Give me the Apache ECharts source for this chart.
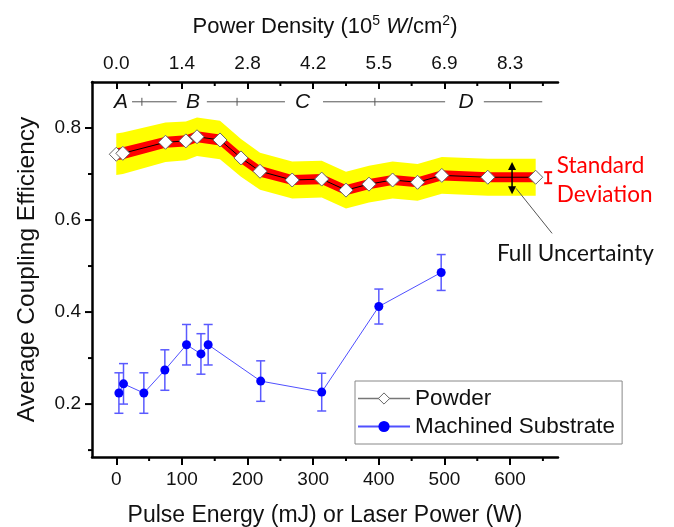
<!DOCTYPE html>
<html><head><meta charset="utf-8">
<script src="https://cdn.jsdelivr.net/npm/echarts@6/dist/echarts.min.js"></script>
<style>html,body{margin:0;padding:0;background:#fff}#c{width:674px;height:527px}</style>
</head><body><div id="c"></div>
<script>
// ---- data ----
const powderX  = [0, 10, 75, 106, 123, 158, 190, 219, 268, 313, 350, 385, 421, 459, 496, 566, 639];
const powderY  = [0.743, 0.745, 0.769, 0.772, 0.781, 0.774, 0.735, 0.706, 0.687, 0.689, 0.665, 0.678, 0.687, 0.682, 0.697, 0.693, 0.693];
const powderSD = [0.013, 0.013, 0.012, 0.012, 0.012, 0.012, 0.012, 0.012, 0.011, 0.011, 0.011, 0.011, 0.011, 0.011, 0.011, 0.011, 0.011];
const powderFU = [0.045, 0.045, 0.043, 0.042, 0.042, 0.042, 0.041, 0.040, 0.040, 0.040, 0.040, 0.040, 0.040, 0.040, 0.040, 0.040, 0.040];
const substrateX   = [4, 11, 42, 74, 107, 129, 140, 220, 313, 400, 495];
const substrateY   = [0.224, 0.244, 0.224, 0.274, 0.329, 0.309, 0.329, 0.250, 0.226, 0.412, 0.486];
const substrateErr = [0.044, 0.044, 0.044, 0.044, 0.044, 0.044, 0.044, 0.044, 0.041, 0.038, 0.039];
const bottomTicks   = [0, 100, 200, 300, 400, 500, 600];
const topTickLabels = ['0.0', '1.4', '2.8', '4.2', '5.5', '6.9', '8.3'];
const yTicks        = [0.2, 0.4, 0.6, 0.8];
const xMinorTicks   = [50, 150, 250, 350, 450, 550, 650];
const yMinorTicks   = [0.1, 0.3, 0.5, 0.7];
const regimeLabels    = ['A', 'B', 'C', 'D'];
const regimeLabelX    = [7, 117, 284, 533];
const regimeLineFrom  = [24, 138, 315, 560];
const regimeLineTo    = [92, 257, 501, 649];
const regimeLineTick  = [39, 184, 394, null];
const regimeY = 0.857;
const X_MIN = -37, X_MAX = 673, Y_MIN = 0.085, Y_MAX = 0.9;

const FONT = '"Liberation Sans", Arial, sans-serif';

const chart = echarts.init(document.getElementById('c'), null, {renderer: 'canvas'});

function bandRender(widths, color) {
  return function (params, api) {
    if (params.dataIndex !== 0) return null;
    const pts = [];
    for (let i = 0; i < powderX.length; i++) pts.push(api.coord([powderX[i], powderY[i] + widths[i]]));
    for (let i = powderX.length - 1; i >= 0; i--) pts.push(api.coord([powderX[i], powderY[i] - widths[i]]));
    return {type: 'polygon', shape: {points: pts}, style: {fill: color}};
  };
}

const axisLineStyle = {show: true, onZero: false, lineStyle: {color: '#000', width: 2.5}};

const option = {
  animation: false,
  backgroundColor: '#fff',
  grid: {left: 92, right: 116, top: 82, bottom: 70, containLabel: false, outerBoundsMode: 'none'},
  legend: {
    orient: 'vertical', left: 355, top: 381,
    padding: [6, 7, 6, 2], itemGap: 5, itemWidth: 52, itemHeight: 14,
    borderColor: '#888', borderWidth: 1,
    textStyle: {fontFamily: FONT, fontSize: 22.5, color: '#111'},
    data: [
      {name: 'Powder', itemStyle: {color: '#fff', borderColor: '#666', borderWidth: 1}, lineStyle: {color: '#777', width: 1.5}},
      {name: 'Machined Substrate'}
    ]
  },
  xAxis: [
    {
      type: 'value', min: X_MIN, max: X_MAX, position: 'bottom',
      name: 'Pulse Energy (mJ) or Laser Power (W)', nameLocation: 'middle', nameGap: 47,
      nameTextStyle: {fontFamily: FONT, fontSize: 23, color: '#111'},
      axisLine: axisLineStyle,
      axisTick: {show: true, customValues: bottomTicks, length: 8, lineStyle: {color: '#000', width: 2}},
      axisLabel: {customValues: bottomTicks, margin: 13, fontFamily: FONT, fontSize: 19, color: '#111'},
      splitLine: {show: false}
    },
    {
      type: 'value', min: X_MIN, max: X_MAX, position: 'top',
      name: '{a|Power Density (10}{s|5}{a| }{i|W}{a|/cm}{s|2}{a|)}', nameLocation: 'middle', nameGap: 42,
      nameTextStyle: {
        rich: {
          a: {fontFamily: FONT, fontSize: 22, color: '#111'},
          i: {fontFamily: FONT, fontSize: 22, color: '#111', fontStyle: 'italic'},
          s: {fontFamily: FONT, fontSize: 14, color: '#111', padding: [0, 0, 12, 0]}
        }
      },
      axisLine: axisLineStyle,
      axisTick: {show: true, inside: true, customValues: bottomTicks, length: 7, lineStyle: {color: '#000', width: 2}},
      axisLabel: {
        customValues: bottomTicks, margin: 9, fontFamily: FONT, fontSize: 19, color: '#111',
        formatter: function (v) { return topTickLabels[bottomTicks.indexOf(Math.round(v))]; }
      },
      splitLine: {show: false}
    }
  ],
  yAxis: {
    type: 'value', min: Y_MIN, max: Y_MAX,
    name: 'Average Coupling Efficiency', nameLocation: 'middle', nameGap: 52,
    nameTextStyle: {fontFamily: FONT, fontSize: 24.5, color: '#111'},
    axisLine: axisLineStyle,
    axisTick: {show: false},
    axisLabel: {customValues: yTicks, margin: 11, fontFamily: FONT, fontSize: 19, color: '#111',
      formatter: function (v) { return v.toFixed(1); }},
    splitLine: {show: false}
  },
  series: [
    { // full uncertainty band
      type: 'custom', name: 'fu', z: 1, silent: true,
      data: powderX.map((x, i) => [x, powderY[i]]),
      renderItem: bandRender(powderFU, '#ffff00')
    },
    { // standard deviation band
      type: 'custom', name: 'sd', z: 2, silent: true,
      data: powderX.map((x, i) => [x, powderY[i]]),
      renderItem: bandRender(powderSD, '#ff0000')
    },
    {
      type: 'line', name: 'Powder', z: 5,
      data: powderX.map((x, i) => [x, powderY[i]]),
      symbol: 'diamond', symbolSize: 14, showAllSymbol: true,
      lineStyle: {color: '#000', width: 1},
      itemStyle: {color: '#fff', borderColor: '#666', borderWidth: 1}
    },
    { // substrate error bars
      type: 'custom', name: 'err', z: 3, silent: true,
      data: substrateX.map((x, i) => [x, substrateY[i] - substrateErr[i], substrateY[i] + substrateErr[i]]),
      renderItem: function (params, api) {
        const lo = api.coord([api.value(0), api.value(1)]);
        const hi = api.coord([api.value(0), api.value(2)]);
        const st = {stroke: '#5a5aff', lineWidth: 1.5};
        return {type: 'group', children: [
          {type: 'line', shape: {x1: lo[0], y1: lo[1], x2: hi[0], y2: hi[1]}, style: st},
          {type: 'line', shape: {x1: lo[0] - 4.5, y1: lo[1], x2: lo[0] + 4.5, y2: lo[1]}, style: st},
          {type: 'line', shape: {x1: hi[0] - 4.5, y1: hi[1], x2: hi[0] + 4.5, y2: hi[1]}, style: st}
        ]};
      }
    },
    {
      type: 'line', name: 'Machined Substrate', z: 4,
      data: substrateX.map((x, i) => [x, substrateY[i]]),
      symbol: 'circle', symbolSize: 9, showAllSymbol: true,
      lineStyle: {color: '#5050ff', width: 1},
      itemStyle: {color: '#0000ff'}
    },
    { // minor ticks (x bottom & top) and y ticks
      type: 'custom', name: 'ticks', z: 6, silent: true, clip: false,
      data: [0],
      renderItem: function (params, api) {
        const ch = [];
        const st = {stroke: '#000', lineWidth: 2};
        xMinorTicks.forEach(v => {
          const b = api.coord([v, Y_MIN]);
          const t = api.coord([v, Y_MAX]);
          ch.push({type: 'line', shape: {x1: b[0], y1: b[1], x2: b[0], y2: b[1] + 4}, style: st});
          ch.push({type: 'line', shape: {x1: t[0], y1: t[1], x2: t[0], y2: t[1] + 4}, style: st});
        });
        yMinorTicks.forEach(v => {
          const p = api.coord([X_MIN, v]);
          ch.push({type: 'line', shape: {x1: p[0], y1: p[1], x2: p[0] - 4, y2: p[1]}, style: st});
        });
        yTicks.forEach(v => {
          const p = api.coord([X_MIN, v]);
          ch.push({type: 'line', shape: {x1: p[0], y1: p[1], x2: p[0] - 7, y2: p[1]}, style: st});
        });
        return {type: 'group', children: ch};
      }
    },
    { // regime annotations A-D
      type: 'custom', name: 'regimes', z: 6, silent: true, clip: false,
      data: regimeLabels.map((l, i) => [regimeLabelX[i], regimeY]),
      renderItem: function (params, api) {
        const i = params.dataIndex;
        const ch = [];
        const st = {stroke: '#555', lineWidth: 1};
        const c = api.coord([regimeLabelX[i], regimeY]);
        ch.push({type: 'text', style: {text: regimeLabels[i], x: c[0], y: c[1], align: 'center', verticalAlign: 'middle',
          fill: '#111', font: 'italic 21px "Liberation Sans", Arial, sans-serif'}});
        const a = api.coord([regimeLineFrom[i], regimeY]);
        const b = api.coord([regimeLineTo[i], regimeY]);
        ch.push({type: 'line', shape: {x1: a[0], y1: a[1], x2: b[0], y2: b[1]}, style: st});
        if (regimeLineTick[i] !== null) {
          const t = api.coord([regimeLineTick[i], regimeY]);
          ch.push({type: 'line', shape: {x1: t[0], y1: t[1] - 4, x2: t[0], y2: t[1] + 4}, style: st});
        }
        return {type: 'group', children: ch};
      }
    },
    { // right side notes
      type: 'custom', name: 'notes', z: 7, silent: true, clip: false,
      data: [0],
      renderItem: function (params, api) {
        const ch = [];
        const at = api.coord([603, 0.726]), ab = api.coord([603, 0.656]);
        ch.push({type: 'line', shape: {x1: at[0], y1: at[1] + 6, x2: ab[0], y2: ab[1] - 6}, style: {stroke: '#000', lineWidth: 1.5}});
        ch.push({type: 'polygon', shape: {points: [[at[0], at[1]], [at[0] - 4, at[1] + 8], [at[0] + 4, at[1] + 8]]}, style: {fill: '#000'}});
        ch.push({type: 'polygon', shape: {points: [[ab[0], ab[1]], [ab[0] - 4, ab[1] - 8], [ab[0] + 4, ab[1] - 8]]}, style: {fill: '#000'}});
        const p1 = api.coord([609, 0.669]), p2 = api.coord([664, 0.571]);
        ch.push({type: 'line', shape: {x1: p1[0], y1: p1[1], x2: p2[0], y2: p2[1]}, style: {stroke: '#555', lineWidth: 1}});
        const st = api.coord([658, 0.704]), sb = api.coord([658, 0.680]);
        const rs = {stroke: '#ff0000', lineWidth: 2};
        ch.push({type: 'line', shape: {x1: st[0], y1: st[1], x2: sb[0], y2: sb[1]}, style: rs});
        ch.push({type: 'line', shape: {x1: st[0] - 4, y1: st[1], x2: st[0] + 4, y2: st[1]}, style: rs});
        ch.push({type: 'line', shape: {x1: sb[0] - 4, y1: sb[1], x2: sb[0] + 4, y2: sb[1]}, style: rs});
        const t1 = api.coord([671, 0.717]), t2 = api.coord([671, 0.654]), t3 = api.coord([580, 0.527]);
        const nf = '22.5px Lato, "Open Sans", sans-serif';
        ch.push({type: 'text', style: {text: 'Standard', x: t1[0], y: t1[1], align: 'left', verticalAlign: 'middle', fill: '#ff0000', font: nf}});
        ch.push({type: 'text', style: {text: 'Deviation', x: t2[0], y: t2[1], align: 'left', verticalAlign: 'middle', fill: '#ff0000', font: nf}});
        ch.push({type: 'text', style: {text: 'Full Uncertainty', x: t3[0], y: t3[1], align: 'left', verticalAlign: 'middle', fill: '#111', font: nf}});
        return {type: 'group', children: ch};
      }
    }
  ]
};
chart.setOption(option);
</script>
</body></html>
